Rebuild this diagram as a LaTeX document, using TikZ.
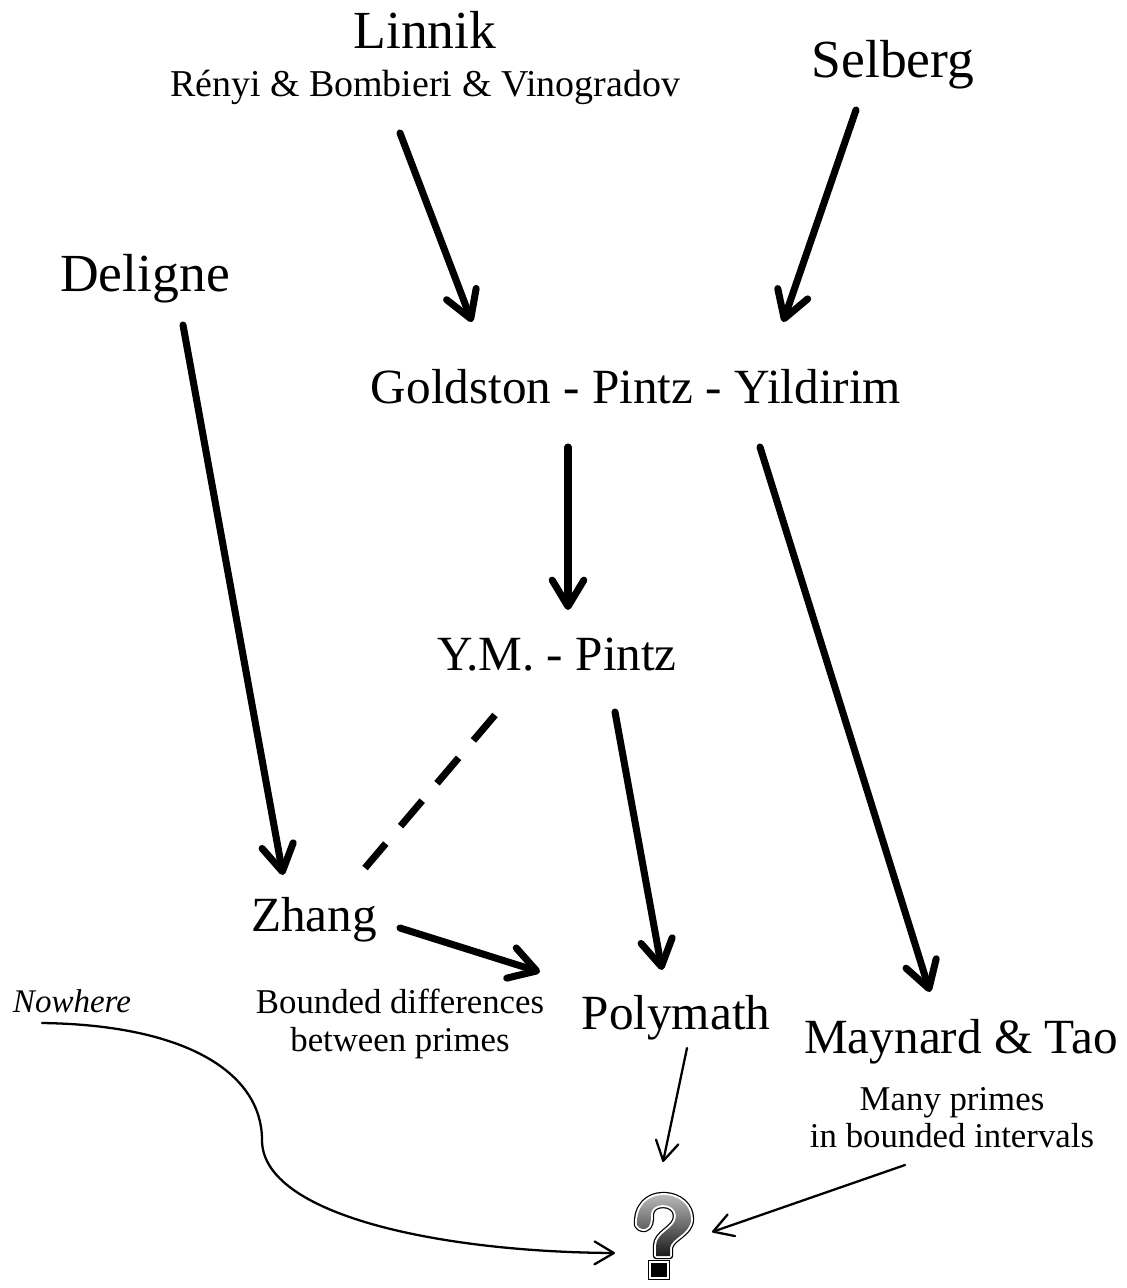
\documentclass[tikz,border=0pt]{standalone}
\usepackage{fontspec}
\setmainfont{Liberation Serif}
\usetikzlibrary{arrows.meta}

\begin{document}
\begin{tikzpicture}[x=0.02cm, y=-0.02cm,
  every node/.style={inner sep=0pt, anchor=base},
  bigname/.style={font=\fontsize{30.5}{36}\selectfont},
  midname/.style={font=\fontsize{28}{32}\selectfont},
  notetext/.style={font=\fontsize{19.8}{22}\selectfont},
  boldlink/.style={line width=4pt, line cap=round, line join=round,
    -{Straight Barb[length=15pt, width=18pt, round]}},
  thinlink/.style={line width=1.3pt, line cap=round,
    -{Straight Barb[length=11pt, width=13pt, round]}},
]
\useasboundingbox (0,0) rectangle (1126,1288);

% names
\node[bigname] (linnik) at (425,49) {Linnik};
\node[font=\fontsize{21.6}{25}\selectfont] (renyi) at (425,96) {Rényi \& Bombieri \& Vinogradov};
\node[bigname] (selberg) at (893,77) {Selberg};
\node[bigname] (deligne) at (145,291) {Deligne};
\node[midname] (gpy) at (636,403) {Goldston - Pintz - Yildirim};
\node[midname] (ympintz) at (557,670) {Y.M. - Pintz};
\node[midname] (zhang) at (314,931) {Zhang};
\node[midname] (polymath) at (676,1029) {Polymath};
\node[midname] (maytao) at (961,1053) {Maynard \& Tao};

% notes
\node[notetext] (zhang-a) at (400,1013) {Bounded differences};
\node[notetext] (zhang-b) at (400,1051) {between primes};
\node[notetext] (maytao-a) at (952,1110) {Many primes};
\node[notetext] (maytao-b) at (952,1147) {in bounded intervals};
\node[font=\fontsize{18.8}{22}\selectfont\itshape] (nowhere) at (72,1012) {Nowhere};

% arrow ends
\path
(400,133) coordinate (renyi-out)
(472,322) coordinate (gpy-in-L)
(856,110) coordinate (selberg-out)
(783,322) coordinate (gpy-in-R)
(183,325) coordinate (deligne-out)
(283,875) coordinate (zhang-in)
(568,447) coordinate (gpy-out-L)
(568,610) coordinate (ympintz-in)
(760,447) coordinate (gpy-out-R)
(930,992) coordinate (maytao-in)
(615,712) coordinate (ympintz-out)
(662,970) coordinate (polymath-in-T)
(495,715) coordinate (ympintz-dash)
(365,868) coordinate (zhang-dash)
(400,928) coordinate (zhang-out)
(540,972) coordinate (polymath-in-L)
(687,1048) coordinate (polymath-out)
(663,1162) coordinate (qmark-in-T)
(905,1165) coordinate (maytao-out)
(712,1232) coordinate (qmark-in-R)
(42,1023) coordinate (nowhere-out)
(615,1253) coordinate (qmark-in-L)
;

% links
\draw[boldlink] (renyi-out) -- (gpy-in-L);
\draw[boldlink] (selberg-out) -- (gpy-in-R);
\draw[boldlink] (deligne-out) -- (zhang-in);
\draw[boldlink] (gpy-out-L) -- (ympintz-in);
\draw[boldlink] (gpy-out-R) -- (maytao-in);
\draw[boldlink] (ympintz-out) -- (polymath-in-T);
\draw[boldlink] (zhang-out) -- (polymath-in-L);
\draw[line width=4pt, dash pattern=on 19pt off 13pt] (ympintz-dash) -- (zhang-dash);

\draw[thinlink] (polymath-out) -- (qmark-in-T);
\draw[thinlink] (maytao-out) -- (qmark-in-R);
\draw[thinlink] (nowhere-out) .. controls (190,1025) and (262,1075) .. (262,1140)
  .. controls (262,1215) and (440,1252) .. (qmark-in-L);

% question mark
\path[top color=gray!55, bottom color=black!90, line join=round,
  preaction={draw=black, line width=3.6pt, line join=round},
  preaction={draw=white, line width=2.2pt, line join=round}]
(637,1225) .. controls (636,1206) and (648,1195) .. (663,1195)
  .. controls (680,1195) and (691,1206) .. (691,1219)
  .. controls (691,1234) and (671,1238) .. (670,1248)
  -- (670,1256) -- (656,1256) -- (656,1246)
  .. controls (656,1232) and (676,1229) .. (676,1216)
  .. controls (676,1209) and (670,1205) .. (663,1205)
  .. controls (656,1205) and (651,1209) .. (651,1214)
  .. controls (651,1221) and (651,1227) .. (645,1229)
  .. controls (641,1229) and (638,1228) .. (637,1225) -- cycle;
\path[fill=black,
  preaction={draw=black, line width=3.6pt},
  preaction={draw=white, line width=2.2pt}]
(651,1263) rectangle (667,1277);

\end{tikzpicture}
\end{document}
